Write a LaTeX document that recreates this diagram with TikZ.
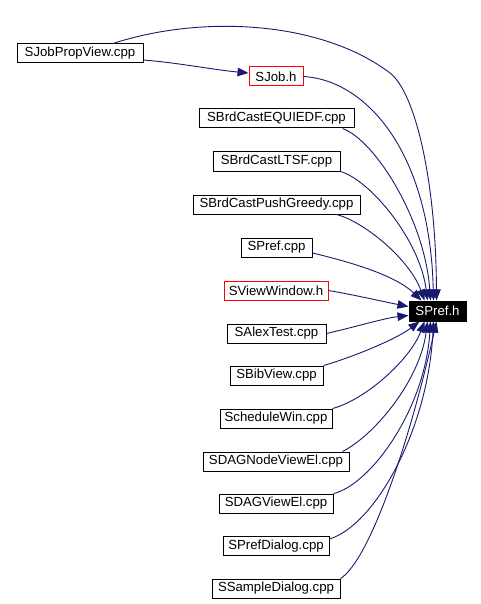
\documentclass[tikz,border=0pt]{standalone}
\usepackage{fontspec}
\setmainfont{Liberation Sans}
\usetikzlibrary{arrows.meta}
\definecolor{edgecol}{HTML}{191970}
\begin{document}
\begin{tikzpicture}[x=1pt,y=-1pt,
  box/.style={draw=black, line width=1pt, minimum height=19pt, inner sep=0pt, font=\fontsize{13.2}{15}\selectfont, text=black, fill=white},
  redbox/.style={box, draw=red},
  target/.style={box, fill=black, text=white, minimum height=20pt},
  edge/.style={draw=edgecol, line width=0.9pt, -{Triangle[length=11pt,width=8.5pt]}}
]
\useasboundingbox[fill=white] (0,0) rectangle (481,604);
% nodes
\node[box, minimum width=126pt] (jpv) at (80,53.5) {SJobPropView.cpp};
\node[redbox, minimum width=54pt] (job) at (276,76.5) {SJob.h};
\node[box, minimum width=155pt] (eq) at (276.5,118.5) {SBrdCastEQUIEDF.cpp};
\node[box, minimum width=127pt] (ltsf) at (276.5,161.5) {SBrdCastLTSF.cpp};
\node[box, minimum width=167pt] (pg) at (276.5,204.5) {SBrdCastPushGreedy.cpp};
\node[box, minimum width=71pt] (prefcpp) at (276.5,247.5) {SPref.cpp};
\node[redbox, minimum width=104pt] (vw) at (276,290.5) {SViewWindow.h};
\node[box, minimum width=99pt] (alex) at (276.5,333.5) {SAlexTest.cpp};
\node[box, minimum width=93pt] (bib) at (276.5,375.5) {SBibView.cpp};
\node[box, minimum width=112pt] (sched) at (276,418.5) {ScheduleWin.cpp};
\node[box, minimum width=146pt] (dagnode) at (276,461.5) {SDAGNodeViewEl.cpp};
\node[box, minimum width=114pt] (dagview) at (276,503.5) {SDAGViewEl.cpp};
\node[box, minimum width=106pt] (prefdlg) at (276,546) {SPrefDialog.cpp};
\node[box, minimum width=128pt] (sample) at (276,588.5) {SSampleDialog.cpp};
\node[target, minimum width=57pt] (spref) at (437.5,311) {SPref.h};
% edges
\draw[edge] ([yshift=-6.5pt]jpv.east) .. controls (180,63) and (215,70) .. ([yshift=3.5pt]job.west);
\draw[edge] ([xshift=33pt]jpv.north) .. controls (200,15) and (320,20) .. (390,73) .. controls (415,92) and (436,180) .. ([xshift=28pt]spref.north west);
\draw[edge] (job.east) .. controls (365,80) and (430,150) .. ([xshift=25pt]spref.north west);
\draw[edge] ([xshift=-12pt]eq.south east) .. controls (375,140) and (425,220) .. ([xshift=22pt]spref.north west);
\draw[edge] (ltsf.south east) .. controls (370,180) and (420,240) .. ([xshift=19pt]spref.north west);
\draw[edge] ([xshift=-24pt]pg.south east) .. controls (365,222) and (410,260) .. ([xshift=16pt]spref.north west);
\draw[edge] ([yshift=-5.5pt]prefcpp.east) .. controls (350,262) and (395,275) .. ([xshift=13pt]spref.north west);
\draw[edge] (vw.east) .. controls (355,295) and (385,302) .. ([yshift=-6pt]spref.north west);
\draw[edge] (alex.east) .. controls (355,327) and (385,318) .. ([yshift=6pt]spref.south west);
\draw[edge] (bib.north east) .. controls (350,358) and (395,340) .. ([xshift=11pt]spref.south west);
\draw[edge] (sched.north east) .. controls (365,400) and (410,360) .. ([xshift=16pt]spref.south west);
\draw[edge] ([xshift=-7pt]dagnode.north east) .. controls (375,435) and (420,380) .. ([xshift=19pt]spref.south west);
\draw[edge] (dagview.north east) .. controls (370,485) and (425,410) .. ([xshift=22pt]spref.south west);
\draw[edge] ([yshift=-3pt]prefdlg.north east) .. controls (375,525) and (428,430) .. ([xshift=25pt]spref.south west);
\draw[edge] (sample.north east) .. controls (370,560) and (410,440) .. ([xshift=28pt]spref.south west);
\end{tikzpicture}
\end{document}
